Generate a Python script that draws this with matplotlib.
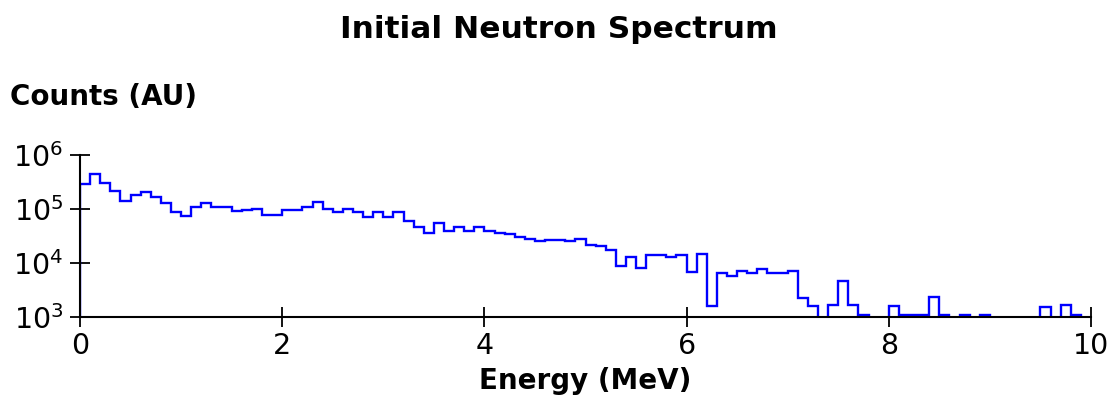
import numpy as np
import matplotlib
matplotlib.use("Agg")
import matplotlib.pyplot as plt
from matplotlib.ticker import LogLocator, LogFormatterSciNotation, NullLocator

# Histogram: 100 bins of 0.1 MeV between 0 and 10 MeV
bin_edges_mev = np.linspace(0.0, 10.0, 101)
counts = [
    295000, 447000, 302000, 211000, 141000, 182000, 209000, 169000, 127000, 89000,
    74000, 110000, 131000, 110000, 110000, 93000, 94000, 102000, 79000, 79000,
    95000, 95000, 110000, 132000, 102000, 87000, 102000, 87000, 72000, 89000,
    72000, 89000, 60000, 46000, 36000, 54000, 38500, 45700, 38500, 46000,
    39000, 35500, 35000, 30200, 27500, 25400, 27200, 27200, 25400, 27800,
    21900, 20400, 17400, 8800, 12900, 8200, 13800, 13800, 12700, 13800,
    6800, 14400, 1610, 6460, 5800, 7080, 6460, 7760, 6460, 6460,
    7000, 2240, 1620, 0, 1640, 4570, 1640, 1070, 0, 0,
    1620, 1090, 1090, 1090, 2340, 1090, 0, 1090, 0, 1090,
    0, 0, 0, 0, 0, 1550, 0, 1660, 1090, 0,
]
x_ticks = [0, 2, 4, 6, 8, 10]
title = "Initial Neutron Spectrum"
x_label = "Energy (MeV)"
y_label = "Counts (AU)"

W, H = 1111, 409
fig = plt.figure(figsize=(W / 100, H / 100), dpi=100)
plt.rcParams['font.family'] = ['DejaVu Sans']

ax = fig.add_axes([80 / W, 1 - 317 / H, (1091 - 80) / W, (317 - 155) / H])
ax.set_yscale('log', nonpositive='clip')
ax.stairs(np.array(counts, dtype=float), bin_edges_mev, baseline=1.0,
          color=(0, 0, 1), linewidth=1.7, zorder=2)

ax.set_xlim(0, 10)
ax.set_ylim(1e3, 1e6)
ax.set_xticks(x_ticks)
ax.set_xticklabels([str(t) for t in x_ticks])
ax.yaxis.set_major_locator(LogLocator(base=10, numticks=10))
ax.yaxis.set_major_formatter(LogFormatterSciNotation())
ax.yaxis.set_minor_locator(NullLocator())

for s in ['top', 'right']:
    ax.spines[s].set_visible(False)
for s in ['left', 'bottom']:
    ax.spines[s].set_linewidth(1.5)
    ax.spines[s].set_zorder(3)

ax.tick_params(axis='both', which='major', direction='inout', length=14,
               width=1.3, labelsize=20.5, colors='black', labelcolor='black')
ax.tick_params(axis='x', pad=4)
ax.tick_params(axis='y', pad=5)

ax.set_xlabel(x_label, fontsize=20, fontweight='bold', labelpad=5)
fig.text(10 / W, 1 - 97 / H, y_label, fontsize=20, fontweight='bold',
         ha='left', va='center')
fig.text(0.503, 1 - 30 / H, title, fontsize=22.5, fontweight='bold',
         ha='center', va='center')

fig.savefig("out.png", dpi=100, facecolor='white')
